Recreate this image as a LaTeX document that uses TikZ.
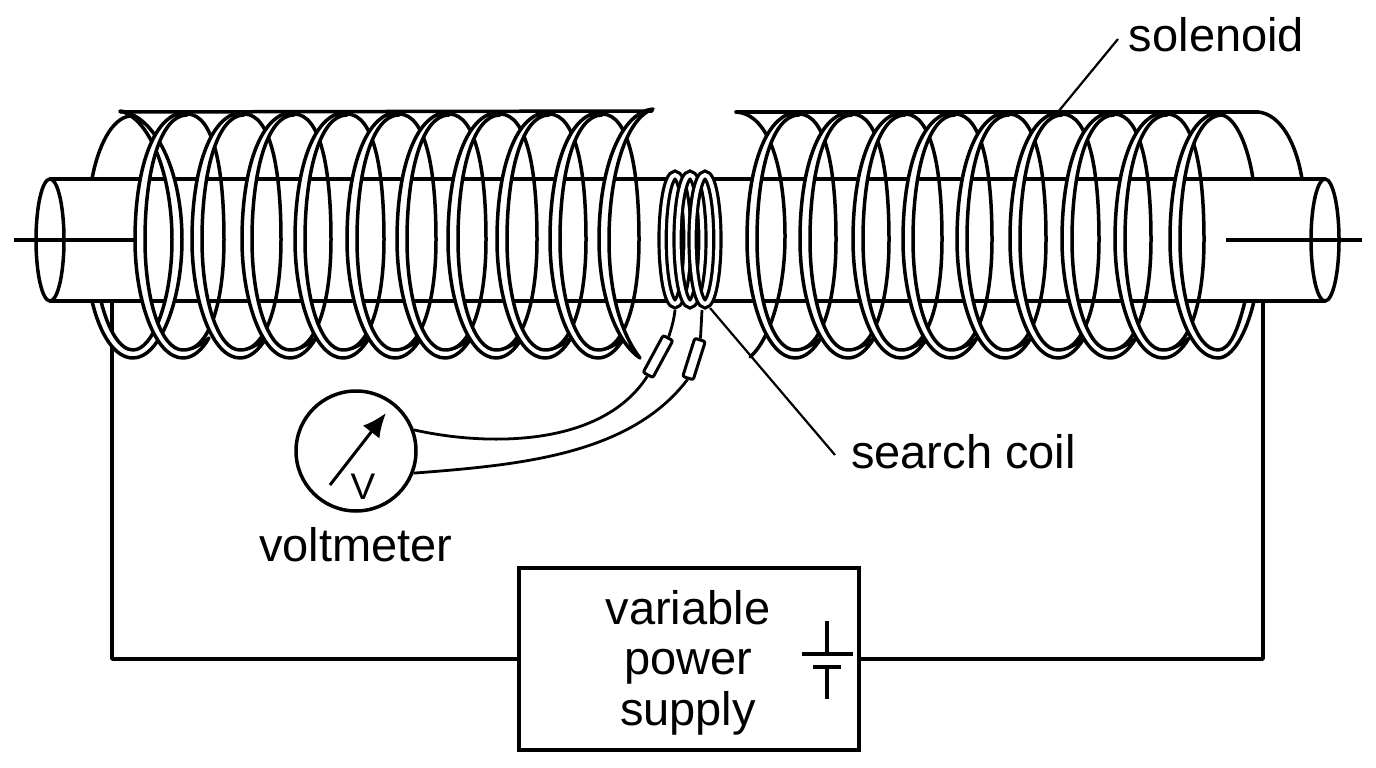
\documentclass[tikz,border=0pt]{standalone}
\usepackage{fontspec}
\setmainfont{Liberation Sans}
\usetikzlibrary{arrows.meta}
\tikzset{
  wire/.style={line width=3.5pt,line join=round,line cap=round},
  backwire/.style={wire},
  front/.style={wire,fill=white},
  thin wire/.style={line width=2.8pt,line join=round},
  label/.style={anchor=base,inner sep=0pt,font=\fontsize{47}{50}\selectfont},
  loop/.style={line width=3.2pt,double=white,double distance=4pt},
  sleeve/.style={draw,line width=3pt,fill=white,rounded corners=2pt,inner sep=0pt,minimum height=11pt}
}
\begin{document}
\begin{tikzpicture}[x=1pt,y=-1pt]
\useasboundingbox (0,0) rectangle (1376,768);
% back halves of the solenoid turns
\foreach \L in {140,197,247,300,352,402,453,502,555,752,805,858,908,962,1015,1067,1120}{
  \draw[backwire] ({\L+47},114) .. controls ({\L+74},114) and ({\L+84},170) .. ({\L+84},240)
     .. controls ({\L+84},296) and ({\L+72},349) .. ({\L+43},351);
}
\draw[backwire] (736,112) .. controls (770,114) and (785,170) .. (785,237) .. controls (785,290) and (770,340) .. (750,357);
\draw[backwire] (92,179) .. controls (98,146) and (112,118) .. (130,116);
\draw[backwire] (1222,115) .. controls (1236,118) and (1248,146) .. (1253,179);
\draw[backwire] (1258,112) .. controls (1280,114) and (1296,142) .. (1302,179);
\draw[backwire] (120,112) -- (652,111);
\draw[backwire] (736,112) -- (1258,112);
% former
\coordinate (tubeTL) at (50,179);
\coordinate (tubeTR) at (1325,179);
\coordinate (tubeBL) at (50,301);
\coordinate (tubeBR) at (1325,301);
\draw[wire] (tubeTL) -- (tubeTR);
\draw[wire] (tubeBL) -- (tubeBR);
\draw[wire] (50,240) ellipse (14 and 61);
\draw[wire] (1325,240) ellipse (14 and 61);
\coordinate (axisLa) at (14,240);
\coordinate (axisLb) at (134,240);
\coordinate (axisRa) at (1226,240);
\coordinate (axisRb) at (1362,240);
\draw[wire,line cap=butt] (axisLa) -- (axisLb);
\draw[wire,line cap=butt] (axisRa) -- (axisRb);
% leader lines and circuit
\coordinate (solL) at (112,301);
\coordinate (solR) at (1263,301);
\node[draw,line width=3.5pt,minimum width=340pt,minimum height=182pt,inner sep=0pt] (psu) at (689,659) {};
\draw[wire,line cap=butt] (solL) |- (psu.west);
\draw[wire,line cap=butt] (psu.east) -| (solR);
% first, partly hidden turn
\draw[front] (120,111) .. controls (155,115) and (182,170) .. (182,240)
   .. controls (182,300) and (160,358) .. (133,358) .. controls (115,358) and (100,335) .. (92,301)
   -- (101,301) .. controls (108,330) and (120,350) .. (133,350)
   .. controls (153,350) and (172,300) .. (172,240) .. controls (172,175) and (150,118) .. (120,111) -- cycle;
% front halves
\foreach \L in {140,197,247,300,352,402,453,502,555,752,805,858,908,962,1015,1067,1120}{
  \draw[front] ({\L+47},112) .. controls ({\L+15},112) and ({\L-5},165) .. ({\L-5},240)
    .. controls ({\L-5},300) and ({\L+15},358) .. ({\L+43},358)
    .. controls ({\L+53},358) and ({\L+62},350) .. ({\L+69},338)
    .. controls ({\L+60},345) and ({\L+52},350) .. ({\L+43},350)
    .. controls ({\L+21},350) and ({\L+5},300) .. ({\L+5},240)
    .. controls ({\L+5},172) and ({\L+20},115) .. ({\L+47},115) -- cycle;
}
% last turn left coil
\draw[front] (653,109) .. controls (622,112) and (599,165) .. (599,240)
   .. controls (599,295) and (616,342) .. (640,358)
   .. controls (622,335) and (609,295) .. (609,240)
   .. controls (609,175) and (626,118) .. (653,109) -- cycle;
% last turn right coil
\draw[front] (1222,112) .. controls (1190,112) and (1170,165) .. (1170,240)
   .. controls (1170,300) and (1190,358) .. (1218,358)
   .. controls (1232,358) and (1246,335) .. (1254,301)
   -- (1245,301) .. controls (1238,330) and (1230,350) .. (1218,350)
   .. controls (1196,350) and (1180,300) .. (1180,240)
   .. controls (1180,172) and (1195,115) .. (1222,115) -- cycle;
% search coil
\fill[white] (675,239.5) ellipse (16 and 68);
\fill[white] (690,239.5) ellipse (16 and 68);
\fill[white] (705,239.5) ellipse (16 and 68);
\draw[loop] (675,239.5) ellipse (12.4 and 64.5);
\draw[loop] (690,239.5) ellipse (12.4 and 64.5);
\draw[loop] (705,239.5) ellipse (12.4 and 64.5);
% search coil leader
\coordinate (leadS) at (710,308);
\coordinate (leadSb) at (835,455);
\draw[line width=2.2pt] (leadS) -- (leadSb);
\coordinate (leadM) at (1058,112);
\coordinate (leadMb) at (1118,39);
\draw[line width=2.2pt] (leadM) -- (leadMb);
% voltmeter
\node[draw,circle,line width=3.5pt,fill=white,minimum size=120pt,inner sep=0pt] (vm) at (356,451) {};
\coordinate (coilA) at (675,310);
\coordinate (coilB) at (702,310);
\node[sleeve,minimum width=42pt,rotate=61.6] (s1) at (658,356.5) {};
\node[sleeve,minimum width=40pt,rotate=72.5] (s2) at (694,359) {};
\draw[thin wire] (coilA) .. controls (674,320) and (671,330) .. (s1.east);
\draw[thin wire] (coilB) -- (s2.east);
\draw[thin wire] (s1.west) .. controls (600,450) and (480,445) .. (vm.20);
\draw[thin wire] (s2.west) .. controls (630,455) and (520,465) .. (vm.-21);
\coordinate (needleA) at (330,485);
\coordinate (needleB) at (386,413);
\draw[line width=3pt,-{Latex[length=24pt,width=21pt]}] (needleA) -- (needleB);
\node[anchor=base,inner sep=0pt,font=\fontsize{37}{40}\selectfont] (vv) at (363,499) {V};
% battery
\coordinate (pa) at (802,654); \coordinate (pb) at (853,654);
\coordinate (pc) at (827,621); \coordinate (pd) at (827,654);
\coordinate (pe) at (813,667); \coordinate (pf) at (841,667);
\coordinate (pg) at (827,667); \coordinate (ph) at (827,699);
\draw[wire,line cap=butt] (pa) -- (pb);
\draw[wire,line cap=butt] (pc) -- (pd);
\draw[wire,line cap=butt] (pe) -- (pf);
\draw[wire,line cap=butt] (pg) -- (ph);
% labels
\node[label] (tsol) at (1216.5,52) {solenoid};
\node[label] (tsc) at (963.5,468) {search coil};
\node[label] (tvm) at (356,561) {voltmeter};
\node[label] (t1) at (688,624) {variable};
\node[label] (t2) at (688,674) {power};
\node[label] (t3) at (688,725) {supply};
\end{tikzpicture}
\end{document}
